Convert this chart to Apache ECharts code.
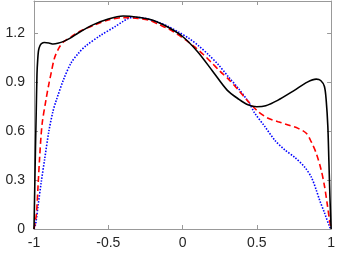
<!DOCTYPE html>
<html><head><meta charset="utf-8">
<script src="https://cdn.jsdelivr.net/npm/echarts@6/dist/echarts.min.js"></script>
<style>html,body{margin:0;padding:0;background:#fff}#c{width:338px;height:254px}</style>
</head><body><div id="c"></div>
<script>
const xTicks = [-1, -0.5, 0, 0.5, 1];
const yTicks = [0, 0.3, 0.6, 0.9, 1.2];

const xBlack = [-1, -0.995, -0.99, -0.985, -0.98, -0.975, -0.969, -0.96, -0.95, -0.93, -0.9, -0.87, -0.84, -0.8, -0.75, -0.7, -0.6, -0.5, -0.4, -0.3, -0.2, -0.1, 0, 0.1, 0.2, 0.3, 0.38, 0.44, 0.5, 0.56, 0.64, 0.75, 0.84, 0.9, 0.93, 0.955, 0.967, 0.978, 0.985, 0.992, 1];
const yBlack = [0, 0.25, 0.5, 0.72, 0.95, 1.04, 1.098, 1.125, 1.138, 1.145, 1.142, 1.136, 1.14, 1.152, 1.175, 1.205, 1.255, 1.29, 1.308, 1.3, 1.282, 1.24, 1.182, 1.09, 0.972, 0.853, 0.796, 0.763, 0.751, 0.757, 0.79, 0.85, 0.902, 0.92, 0.912, 0.875, 0.79, 0.63, 0.42, 0.2, 0];

const xRed = [-1, -0.984, -0.973, -0.962, -0.946, -0.92, -0.9, -0.884, -0.862, -0.83, -0.8, -0.75, -0.7, -0.6, -0.5, -0.4, -0.3, -0.226, -0.159, -0.092, -0.025, 0.03, 0.086, 0.142, 0.197, 0.253, 0.309, 0.376, 0.443, 0.51, 0.576, 0.644, 0.711, 0.778, 0.833, 0.866, 0.9, 0.933, 0.956, 0.973, 0.989, 1];
const yRed = [0, 0.09, 0.26, 0.44, 0.64, 0.79, 0.89, 0.96, 1.05, 1.115, 1.15, 1.18, 1.21, 1.25, 1.283, 1.298, 1.293, 1.282, 1.255, 1.228, 1.19, 1.155, 1.115, 1.07, 1.02, 0.968, 0.92, 0.853, 0.782, 0.72, 0.68, 0.659, 0.639, 0.618, 0.588, 0.536, 0.465, 0.363, 0.261, 0.159, 0.057, 0];

const xBlue = [-1, -0.989, -0.973, -0.951, -0.928, -0.9, -0.873, -0.85, -0.8, -0.75, -0.7, -0.65, -0.55, -0.45, -0.4, -0.35, -0.293, -0.226, -0.159, -0.092, -0.025, 0.041, 0.108, 0.175, 0.242, 0.309, 0.376, 0.443, 0.487, 0.555, 0.621, 0.688, 0.755, 0.822, 0.866, 0.9, 0.922, 0.956, 0.989, 1];
const yBlue = [0, 0.03, 0.14, 0.29, 0.43, 0.6, 0.72, 0.79, 0.92, 1.02, 1.08, 1.125, 1.19, 1.245, 1.275, 1.297, 1.298, 1.288, 1.268, 1.242, 1.208, 1.172, 1.125, 1.07, 1.008, 0.934, 0.863, 0.782, 0.71, 0.628, 0.545, 0.486, 0.44, 0.38, 0.32, 0.24, 0.179, 0.098, 0.016, 0];

const zip = (xs, ys) => xs.map((x, i) => [x, ys[i]]);
const axisCol = '#999999';
const labelCol = '#262626';
const font = 'Liberation Sans, Arial, sans-serif';

const chart = echarts.init(document.getElementById('c'));
const mkX = (pos, show) => ({
  type: 'value', position: pos, min: -1, max: 1, interval: 0.5,
  axisLine: {show: true, onZero: false, lineStyle: {color: axisCol, width: 1}},
  axisTick: {show: true, inside: true, length: 4, lineStyle: {color: axisCol}},
  axisLabel: {show: show, color: labelCol, fontSize: 14, fontFamily: font, margin: 7,
    formatter: v => xTicks.includes(v) ? String(v) : ''},
  splitLine: {show: false}
});
const mkY = (pos, show) => ({
  type: 'value', position: pos, min: 0, max: 1.4, interval: 0.3,
  axisLine: {show: true, onZero: false, lineStyle: {color: axisCol, width: 1}},
  axisTick: {show: true, inside: true, length: 4, lineStyle: {color: axisCol}},
  axisLabel: {show: show, color: labelCol, fontSize: 14, fontFamily: font, margin: 9, showMaxLabel: false,
    formatter: v => { const m = yTicks.find(t => Math.abs(t - v) < 1e-6); return m === undefined ? '' : String(m); }},
  splitLine: {show: false}
});
chart.setOption({
  animation: false,
  grid: {left: 34, right: 5, top: 1, bottom: 25, containLabel: false},
  xAxis: [mkX('bottom', true), mkX('top', false)],
  yAxis: [mkY('left', true), mkY('right', false)],
  series: [
    {type: 'line', data: zip(xBlue, yBlue), showSymbol: false, smooth: 0.3,
      lineStyle: {color: '#0000ff', width: 1.6, type: [1.5, 1.5]}},
    {type: 'line', data: zip(xRed, yRed), showSymbol: false, smooth: 0.3,
      lineStyle: {color: '#ff0000', width: 1.6, type: [6, 3.5]}},
    {type: 'line', data: zip(xBlack, yBlack), showSymbol: false, smooth: 0.3,
      lineStyle: {color: '#000000', width: 1.6}}
  ]
});
</script></body></html>
